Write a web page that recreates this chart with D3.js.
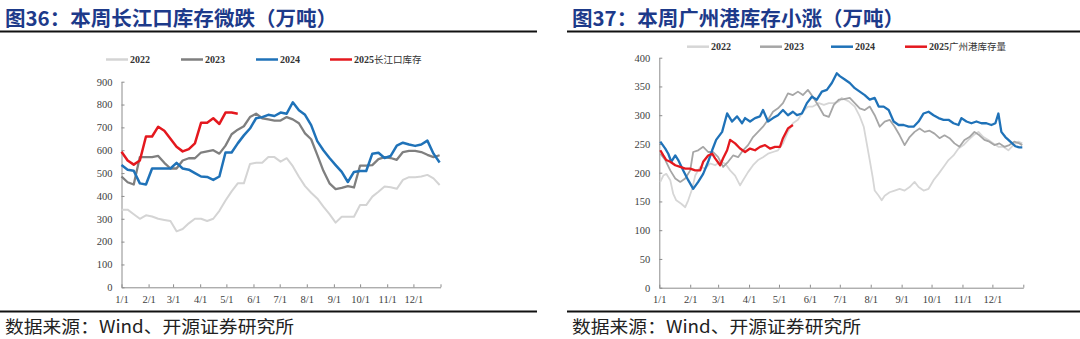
<!DOCTYPE html>
<html><head><meta charset="utf-8">
<script src="https://cdn.jsdelivr.net/npm/d3@7"></script>
<style>body{margin:0;background:#fff}svg{display:block}</style>
</head><body>
<svg id="c" width="1080" height="339"></svg>
<script>
// ---------- data ----------
const monthLabels = ["1/1","2/1","3/1","4/1","5/1","6/1","7/1","8/1","9/1","10/1","11/1","12/1"];
const leftTitle = "图36：本周长江口库存微跌（万吨）";
const rightTitle = "图37：本周广州港库存小涨（万吨）";
const sourceText = "数据来源：Wind、开源证券研究所";
const leftLegend = ["2022","2023","2024","2025长江口库存"];
const rightLegend = ["2022","2023","2024","2025广州港库存量"];
const leftYTicks = [0,100,200,300,400,500,600,700,800,900];
const rightYTicks = [0,50,100,150,200,250,300,350,400];

// 长江口库存, weekly values from 1/1
const cj2022 = [340,340,320,300,315,310,300,295,290,245,255,280,300,300,290,300,335,380,420,455,455,540,545,545,570,570,550,565,530,484,443,414,389,353,320,283,309,309,309,360,360,397,418,441,438,431,470,482,482,485,492,477,448];
const cj2023 = [485,460,450,570,570,570,575,545,520,520,555,565,565,590,595,600,585,620,670,690,705,745,760,740,735,730,730,745,735,718,674,648,580,510,455,430,435,443,437,533,533,535,561,570,566,558,592,597,597,592,580,570,578];
const cj2024 = [535,515,510,455,450,520,520,520,520,545,520,515,500,485,483,470,485,590,590,630,665,695,740,745,755,750,765,760,810,775,755,710,640,600,566,535,505,461,505,509,509,585,589,566,575,620,633,625,619,625,642,585,546];
const cj2025 = [593,555,537,555,660,660,703,685,650,615,595,605,630,720,720,740,715,765,765,760];

// 广州港库存, [day of year, value]
const gz2022 = [[1,184],[4,195],[7,198],[11,187],[14,163],[17,152],[22,146],[26,140],[29,152],[33,172],[36,195],[41,210],[46,207],[51,216],[56,213],[61,219],[66,216],[71,204],[76,195],[81,178],[84,187],[89,201],[94,213],[99,222],[104,227],[109,233],[114,236],[119,239],[124,251],[129,271],[134,286],[139,292],[144,306],[149,315],[154,315],[160,321],[165,318],[170,321],[175,321],[180,324],[183,330],[190,324],[196,315],[201,298],[205,280],[208,251],[211,222],[214,192],[216,169],[220,160],[223,152],[226,160],[231,166],[236,169],[241,172],[246,169],[251,175],[256,184],[260,175],[265,169],[270,172],[275,187],[280,198],[285,210],[290,222],[295,230],[300,242],[305,248],[310,257],[315,265],[320,271],[325,262],[330,257],[335,251],[340,245],[345,245],[350,239],[355,248],[360,254],[364,251]];
const gz2023 = [[1,233],[6,222],[11,204],[16,190],[21,184],[26,190],[31,204],[34,236],[39,239],[44,245],[49,236],[54,236],[59,227],[64,210],[69,219],[74,230],[79,227],[84,239],[89,248],[94,262],[99,271],[104,280],[109,292],[114,306],[119,312],[124,321],[129,338],[134,335],[139,341],[144,335],[149,344],[154,332],[160,315],[165,300],[170,297],[175,318],[180,327],[185,328],[191,330],[196,321],[201,312],[206,309],[211,315],[216,300],[221,280],[226,289],[231,292],[236,280],[241,265],[246,248],[251,262],[256,271],[261,277],[266,271],[271,273],[276,268],[281,260],[286,265],[291,260],[296,251],[301,245],[306,257],[311,262],[316,271],[321,265],[326,257],[331,254],[336,248],[341,251],[346,245],[351,248],[356,254],[361,251],[364,248]];
const gz2024 = [[1,254],[6,242],[9,233],[12,219],[16,230],[19,222],[24,204],[29,187],[34,172],[39,184],[44,198],[49,219],[53,239],[57,257],[63,271],[68,303],[73,289],[78,298],[83,286],[86,295],[91,289],[96,295],[101,298],[104,309],[109,289],[114,295],[119,300],[124,309],[129,300],[134,306],[138,300],[143,303],[148,321],[153,332],[158,327],[163,341],[168,344],[173,356],[178,373],[181,368],[186,362],[191,356],[196,347],[201,341],[206,335],[211,327],[216,330],[220,315],[225,315],[230,309],[235,289],[240,283],[245,283],[250,280],[255,280],[260,289],[265,303],[270,306],[275,300],[280,295],[285,292],[290,292],[295,286],[300,283],[303,295],[308,289],[313,286],[318,289],[323,286],[328,286],[333,283],[337,286],[340,303],[343,271],[347,262],[352,254],[357,246],[361,244],[364,244]];
const gz2025 = [[1,239],[4,230],[7,222],[11,219],[16,213],[21,210],[26,207],[31,207],[36,204],[41,204],[44,219],[49,230],[53,233],[56,225],[61,213],[64,225],[68,239],[71,257],[76,251],[81,242],[86,236],[91,242],[96,239],[101,245],[106,248],[111,242],[116,245],[121,245],[124,260],[129,277],[134,283]];

// ---------- drawing ----------
const svg = d3.select("#c");
svg.append("rect").attr("width",1080).attr("height",339).attr("fill","#fff");

const dayDate = d => new Date(Date.UTC(2023,0,1+d));
const weekly = arr => arr.map((v,i)=>[i*7,v]);

function header(x0, x1, title){
  svg.append("text").attr("x", x0+5).attr("y", 26)
    .attr("font-family","'Noto Sans CJK SC'").attr("font-weight",700)
    .attr("font-size",20).attr("fill","#1d3a8a")
    .attr("textLength",332).attr("lengthAdjust","spacingAndGlyphs")
    .text(title);
  svg.append("line").attr("x1",x0).attr("x2",x1).attr("y1",31.5).attr("y2",31.5)
    .attr("stroke","#111").attr("stroke-width",2);
  svg.append("line").attr("x1",x0).attr("x2",x1).attr("y1",311.5).attr("y2",311.5)
    .attr("stroke","#111").attr("stroke-width",2);
  svg.append("text").attr("x", x0+5).attr("y", 333)
    .attr("font-family","'Noto Sans CJK SC'").attr("font-size",17).attr("fill","#222")
    .attr("textLength",289).attr("lengthAdjust","spacingAndGlyphs")
    .text(sourceText);
}

function chart(cfg){
  const x = d3.scaleUtc().domain([dayDate(0), dayDate(365)]).range([cfg.left, cfg.right]);
  const y = d3.scaleLinear().domain([0, cfg.yMax]).range([cfg.bottom, cfg.top]);
  const g = svg.append("g");
  const tickDates = d3.range(13).map(m => new Date(Date.UTC(2023,m,1)));
  const xa = g.append("g").attr("transform",`translate(0,${cfg.bottom})`)
    .call(d3.axisBottom(x).tickValues(tickDates).tickSize(-3).tickSizeOuter(0).tickPadding(8)
      .tickFormat((d,i)=> monthLabels[i] || ""));
  const ya = g.append("g").attr("transform",`translate(${cfg.left},0)`)
    .call(d3.axisLeft(y).tickValues(cfg.yTicks).tickSize(-3).tickSizeOuter(0).tickPadding(9));
  [xa,ya].forEach(a=>{
    a.select(".domain").attr("stroke","#8c8c8c");
    a.selectAll(".tick line").attr("stroke","#8c8c8c");
    a.selectAll("text").attr("font-family","'Liberation Serif'").attr("font-size",10.5).attr("fill","#404040");
  });
  const line = d3.line().x(d=>x(dayDate(d[0]))).y(d=>y(d[1]));
  cfg.series.forEach(s=>{
    g.append("path").datum(s.data).attr("d",line).attr("fill","none")
      .attr("stroke",s.color).attr("stroke-width",s.w).attr("stroke-linejoin","round");
  });
  // legend
  cfg.series.forEach((s,i)=>{
    const lx = cfg.legendX[i];
    g.append("line").attr("x1",lx).attr("x2",lx+22).attr("y1",cfg.legendY).attr("y2",cfg.legendY)
      .attr("stroke",s.color).attr("stroke-width",2.5);
    const t = g.append("text").attr("x",lx+24).attr("y",cfg.legendY+3.5)
      .attr("font-size",10).attr("fill","#333").attr("font-weight",700);
    const lab = cfg.legend[i];
    t.append("tspan").attr("font-family","'Liberation Serif'").text(lab.slice(0,4));
    if(lab.length>4) t.append("tspan").attr("font-family","'Noto Sans CJK SC'").attr("font-size",9.5).attr("font-weight",400).text(lab.slice(4));
  });
}

header(0, 537, leftTitle);
header(567, 1080, rightTitle);

chart({left:121.5, right:440.5, top:81.7, bottom:287.3, yMax:900, yTicks:leftYTicks,
  legend:leftLegend, legendX:[106,181,256,330], legendY:59.5,
  series:[
    {data:weekly(cj2022), color:"#d4d4d4", w:2},
    {data:weekly(cj2023), color:"#7f7f7f", w:2.3},
    {data:weekly(cj2024), color:"#1f72b8", w:2.5},
    {data:weekly(cj2025), color:"#e4181e", w:2.5}
  ]});

chart({left:659.3, right:1023.3, top:57.7, bottom:287.7, yMax:400, yTicks:rightYTicks,
  legend:rightLegend, legendX:[687,760,831,905], legendY:46.7,
  series:[
    {data:gz2022, color:"#d6d6d6", w:1.8},
    {data:gz2023, color:"#a6a6a6", w:1.8},
    {data:gz2024, color:"#1f72b8", w:2.3},
    {data:gz2025, color:"#e4181e", w:2.3}
  ]});
</script>
</body></html>
